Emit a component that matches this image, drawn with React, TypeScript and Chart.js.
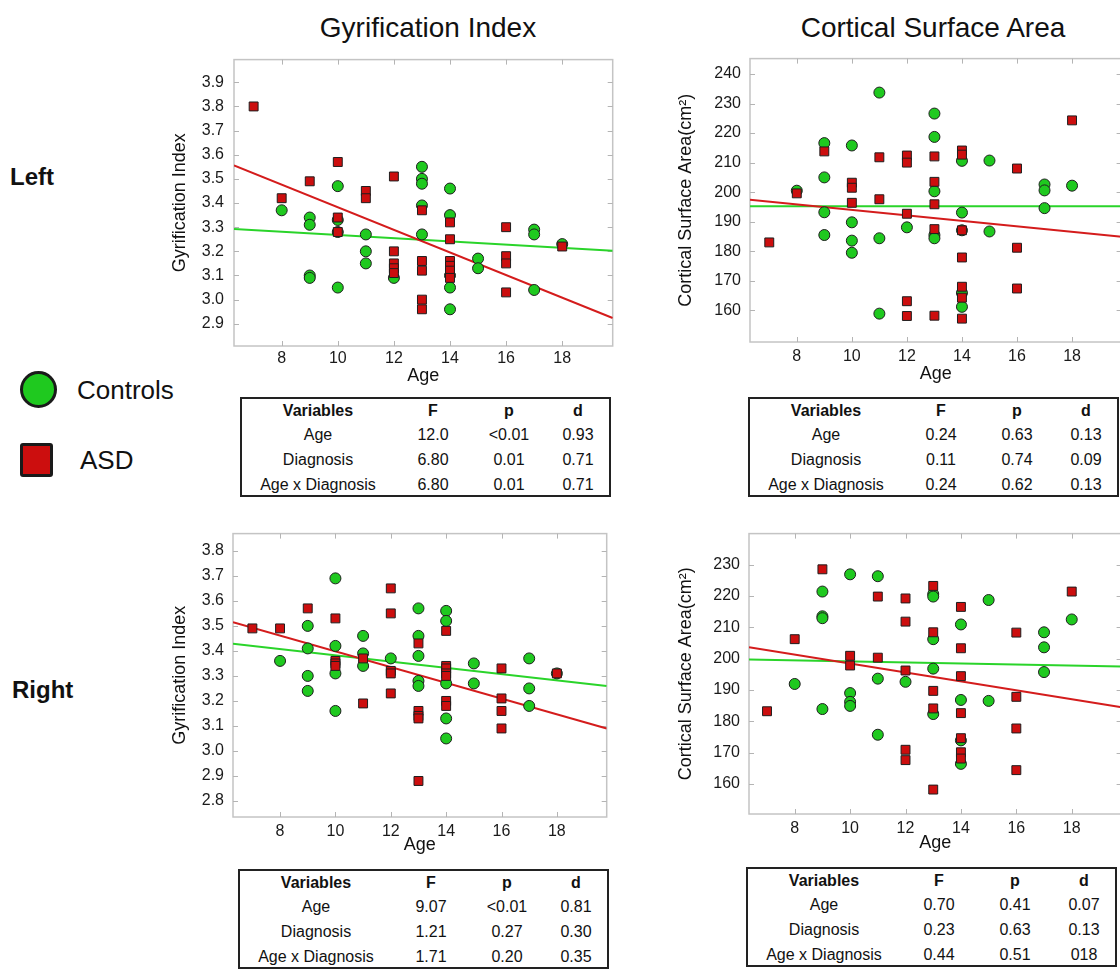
import React, { useEffect, useRef } from 'react';
import { Chart, registerables } from 'chart.js';

Chart.register(...registerables);

const FONT = '"Liberation Sans", Arial, Helvetica, sans-serif';
const GREEN = '#1fc91f';
const RED = '#cc0e0e';
const EDGE = '#1e1e1e';
const GREEN_LINE = '#2ad42a';
const RED_LINE = '#d41c1c';

// ---- axis ranges / ticks ----
const AGE_MIN = 6.3;
const AGE_MAX = 19.8;
const ageTicks = [8, 10, 12, 14, 16, 18];
const giLeftTicks = [2.9, 3.0, 3.1, 3.2, 3.3, 3.4, 3.5, 3.6, 3.7, 3.8, 3.9];
const giRightTicks = [2.8, 2.9, 3.0, 3.1, 3.2, 3.3, 3.4, 3.5, 3.6, 3.7, 3.8];
const saLeftTicks = [160, 170, 180, 190, 200, 210, 220, 230, 240];
const saRightTicks = [160, 170, 180, 190, 200, 210, 220, 230];

// ---- Gyrification Index, Left ----
const giLeftControls: [number, number][] = [
  [8, 3.37], [9, 3.34], [9, 3.31], [9, 3.10], [9, 3.09], [10, 3.47], [10, 3.33], [10, 3.28], [10, 3.05],
  [11, 3.27], [11, 3.20], [11, 3.15], [12, 3.09], [13, 3.55], [13, 3.50], [13, 3.48], [13, 3.39], [13, 3.27],
  [14, 3.46], [14, 3.35], [14, 3.10], [14, 3.05], [14, 2.96], [15, 3.17], [15, 3.13], [17, 3.29], [17, 3.27],
  [17, 3.04], [18, 3.23],
];
const giLeftAsd: [number, number][] = [
  [7, 3.80], [8, 3.42], [9, 3.49], [10, 3.57], [10, 3.34], [10, 3.28], [11, 3.45], [11, 3.42], [12, 3.51],
  [12, 3.20], [12, 3.15], [12, 3.13], [12, 3.11], [13, 3.37], [13, 3.16], [13, 3.12], [13, 3.00], [13, 2.96],
  [14, 3.32], [14, 3.25], [14, 3.16], [14, 3.14], [14, 3.12], [14, 3.09], [16, 3.30], [16, 3.18], [16, 3.15],
  [16, 3.03], [18, 3.22],
];
const giLeftControlFit = [3.293, 3.202];
const giLeftAsdFit = [3.556, 2.924];

// ---- Cortical Surface Area, Left ----
const saLeftControls: [number, number][] = [
  [8, 200.5], [9, 216.6], [9, 205.0], [9, 193.2], [9, 185.5], [10, 215.8], [10, 189.8], [10, 183.6], [10, 179.5],
  [11, 233.7], [11, 184.4], [11, 158.9], [12, 188.1], [13, 226.6], [13, 218.7], [13, 200.3], [13, 185.5], [13, 184.4],
  [14, 210.6], [14, 193.1], [14, 187.1], [14, 165.9], [14, 161.2], [15, 210.7], [15, 186.7], [17, 202.6], [17, 200.6],
  [17, 194.6], [18, 202.2],
];
const saLeftAsd: [number, number][] = [
  [7, 183.0], [8, 199.6], [9, 213.8], [10, 203.2], [10, 201.5], [10, 196.4], [11, 211.8], [11, 197.6], [12, 212.4],
  [12, 210.0], [12, 192.7], [12, 163.1], [12, 158.1], [13, 212.1], [13, 203.5], [13, 195.9], [13, 187.5], [13, 158.2],
  [14, 214.1], [14, 212.7], [14, 187.1], [14, 177.9], [14, 168.0], [14, 164.3], [14, 157.2], [16, 208.0], [16, 181.2],
  [16, 167.4], [18, 224.3],
];
const saLeftControlFit = [195.2, 195.2];
const saLeftAsdFit = [197.4, 184.9];

// ---- Gyrification Index, Right ----
const giRightControls: [number, number][] = [
  [8, 3.36], [9, 3.50], [9, 3.41], [9, 3.30], [9, 3.24], [10, 3.69], [10, 3.42], [10, 3.31], [10, 3.16],
  [11, 3.46], [11, 3.39], [11, 3.34], [12, 3.37], [13, 3.57], [13, 3.46], [13, 3.38], [13, 3.28], [13, 3.26],
  [14, 3.56], [14, 3.52], [14, 3.27], [14, 3.13], [14, 3.05], [15, 3.35], [15, 3.27], [17, 3.37], [17, 3.25],
  [17, 3.18], [18, 3.31],
];
const giRightAsd: [number, number][] = [
  [7, 3.49], [8, 3.49], [9, 3.57], [10, 3.53], [10, 3.36], [10, 3.35], [10, 3.34], [11, 3.37], [11, 3.19],
  [12, 3.65], [12, 3.55], [12, 3.32], [12, 3.31], [12, 3.23], [13, 3.43], [13, 3.16], [13, 3.14], [13, 3.13],
  [13, 2.88], [14, 3.48], [14, 3.34], [14, 3.33], [14, 3.31], [14, 3.30], [14, 3.20], [14, 3.18], [16, 3.33],
  [16, 3.21], [16, 3.16], [16, 3.09], [18, 3.31],
];
const giRightControlFit = [3.429, 3.260];
const giRightAsdFit = [3.515, 3.090];

// ---- Cortical Surface Area, Right ----
const saRightControls: [number, number][] = [
  [8, 191.9], [9, 221.4], [9, 213.5], [9, 212.9], [9, 183.9], [10, 226.9], [10, 189.0], [10, 186.2], [10, 184.9],
  [11, 226.3], [11, 193.6], [11, 175.7], [12, 192.6], [13, 220.6], [13, 219.8], [13, 206.2], [13, 196.8], [13, 182.3],
  [14, 210.9], [14, 186.8], [14, 173.9], [14, 166.4], [15, 218.7], [15, 186.5], [17, 208.4], [17, 203.6], [17, 195.7],
  [18, 212.5],
];
const saRightAsd: [number, number][] = [
  [7, 183.2], [8, 206.2], [9, 228.5], [10, 200.9], [10, 197.8], [11, 219.8], [11, 200.3], [12, 219.2], [12, 211.8],
  [12, 196.2], [12, 170.9], [12, 167.6], [13, 223.2], [13, 208.4], [13, 189.7], [13, 184.1], [13, 158.2], [14, 216.5],
  [14, 203.3], [14, 194.4], [14, 182.6], [14, 174.6], [14, 170.1], [14, 168.1], [16, 208.3], [16, 187.8], [16, 177.7],
  [16, 164.4], [18, 221.4],
];
const saRightControlFit = [199.7, 197.5];
const saRightAsdFit = [203.6, 184.5];

// ---- statistics tables ----
const tableHeader = ['Variables', 'F', 'p', 'd'];
const tableVariables = ['Age', 'Diagnosis', 'Age x Diagnosis'];
const giLeftF = ['12.0', '6.80', '6.80'];
const giLeftP = ['<0.01', '0.01', '0.01'];
const giLeftD = ['0.93', '0.71', '0.71'];
const saLeftF = ['0.24', '0.11', '0.24'];
const saLeftP = ['0.63', '0.74', '0.62'];
const saLeftD = ['0.13', '0.09', '0.13'];
const giRightF = ['9.07', '1.21', '1.71'];
const giRightP = ['<0.01', '0.27', '0.20'];
const giRightD = ['0.81', '0.30', '0.35'];
const saRightF = ['0.70', '0.23', '0.44'];
const saRightP = ['0.41', '0.63', '0.51'];
const saRightD = ['0.07', '0.13', '018'];

const framePlugin = {
  id: 'frame',
  beforeDatasetsDraw(chart: any) {
    const { ctx, chartArea: a, scales } = chart;
    const x = scales.x;
    const y = scales.y;
    ctx.save();
    ctx.strokeStyle = '#c4c4c4';
    ctx.lineWidth = 1.5;
    ctx.strokeRect(a.left, a.top, a.right - a.left, a.bottom - a.top);
    ctx.strokeStyle = '#b4b4b4';
    ctx.lineWidth = 1;
    const L = 5;
    ctx.beginPath();
    for (const t of x.ticks) {
      const px = Math.round(x.getPixelForValue(t.value)) + 0.5;
      ctx.moveTo(px, a.bottom); ctx.lineTo(px, a.bottom - L);
      ctx.moveTo(px, a.top); ctx.lineTo(px, a.top + L);
    }
    for (const t of y.ticks) {
      const py = Math.round(y.getPixelForValue(t.value)) + 0.5;
      ctx.moveTo(a.left, py); ctx.lineTo(a.left + L, py);
      ctx.moveTo(a.right, py); ctx.lineTo(a.right - L, py);
    }
    ctx.stroke();
    ctx.restore();
  },
};

type PanelProps = {
  left: number; top: number; width: number; height: number;
  yAxisWidth: number; xAxisHeight: number; padTop: number; padRight: number;
  xMin: number;
  yMin: number; yMax: number; yTicks: number[]; decimals: number;
  yTitle: string; yTitlePad: number; yTickPad: number; xTickPad: number;
  controls: [number, number][]; asd: [number, number][];
  controlFit: number[]; asdFit: number[];
};

function Panel(p: PanelProps) {
  const ref = useRef<HTMLCanvasElement>(null);
  useEffect(() => {
    const chart = new Chart(ref.current as HTMLCanvasElement, {
      type: 'scatter',
      data: {
        datasets: [
          {
            label: 'ASD',
            data: p.asd.map(([x, y]) => ({ x, y })),
            pointStyle: 'rect',
            pointRadius: 6.3,
            backgroundColor: RED,
            borderColor: EDGE,
            borderWidth: 1,
          },
          {
            label: 'Controls',
            data: p.controls.map(([x, y]) => ({ x, y })),
            pointStyle: 'circle',
            pointRadius: 5.5,
            backgroundColor: GREEN,
            borderColor: EDGE,
            borderWidth: 1,
          },
          {
            label: 'ASD fit',
            data: [{ x: p.xMin, y: p.asdFit[0] }, { x: AGE_MAX, y: p.asdFit[1] }],
            showLine: true,
            pointRadius: 0,
            borderColor: RED_LINE,
            borderWidth: 2,
            fill: false,
          },
          {
            label: 'Controls fit',
            data: [{ x: p.xMin, y: p.controlFit[0] }, { x: AGE_MAX, y: p.controlFit[1] }],
            showLine: true,
            pointRadius: 0,
            borderColor: GREEN_LINE,
            borderWidth: 2,
            fill: false,
          },
        ],
      } as any,
      options: {
        responsive: false,
        maintainAspectRatio: false,
        animation: false,
        events: [],
        layout: { padding: { top: p.padTop, right: p.padRight, left: 0, bottom: 0 } },
        plugins: { legend: { display: false }, tooltip: { enabled: false } },
        scales: {
          x: {
            type: 'linear',
            min: p.xMin,
            max: AGE_MAX,
            grid: { display: false, drawTicks: false },
            border: { display: false },
            afterBuildTicks: (s: any) => { s.ticks = ageTicks.map((v) => ({ value: v })); },
            afterFit: (s: any) => { s.height = p.xAxisHeight; },
            ticks: {
              font: { family: FONT, size: 16 },
              color: '#1a1a1a',
              padding: p.xTickPad,
              maxRotation: 0,
              autoSkip: false,
              callback: (v: any) => String(v),
            },
            title: { display: true, text: 'Age', font: { family: FONT, size: 18 }, color: '#111', padding: 0 },
          },
          y: {
            type: 'linear',
            min: p.yMin,
            max: p.yMax,
            grid: { display: false, drawTicks: false },
            border: { display: false },
            afterBuildTicks: (s: any) => { s.ticks = p.yTicks.map((v) => ({ value: v })); },
            afterFit: (s: any) => { s.width = p.yAxisWidth; },
            ticks: {
              font: { family: FONT, size: 16 },
              color: '#1a1a1a',
              padding: p.yTickPad,
              autoSkip: false,
              callback: (v: any) => Number(v).toFixed(p.decimals),
            },
            title: {
              display: true,
              text: p.yTitle,
              font: { family: FONT, size: 18 },
              color: '#111',
              padding: { top: p.yTitlePad, bottom: 0 },
            },
          },
        },
      } as any,
      plugins: [framePlugin],
    });
    return () => chart.destroy();
  }, []);
  return (
    <canvas
      ref={ref}
      width={p.width}
      height={p.height}
      style={{ position: 'absolute', left: p.left, top: p.top, width: p.width, height: p.height }}
    />
  );
}

const colCenters = [78, 193, 269, 338];
const rowCenters = [13.5, 37.5, 62.5, 87.5];

function StatsTable(props: { left: number; top: number; F: string[]; P: string[]; D: string[] }) {
  const cells: React.ReactNode[] = [];
  tableHeader.forEach((h, c) => {
    cells.push(
      <div key={'h' + c} style={{ position: 'absolute', left: colCenters[c] - 2, top: rowCenters[0] - 2, transform: 'translate(-50%,-50%)', fontWeight: 'bold', whiteSpace: 'nowrap', lineHeight: 1 }}>{h}</div>
    );
  });
  tableVariables.forEach((name, r) => {
    const vals = [name, props.F[r], props.P[r], props.D[r]];
    vals.forEach((v, c) => {
      cells.push(
        <div key={r + '-' + c} style={{ position: 'absolute', left: colCenters[c] - 2, top: rowCenters[r + 1] - 2, transform: 'translate(-50%,-50%)', whiteSpace: 'nowrap', lineHeight: 1 }}>{v}</div>
      );
    });
  });
  return (
    <div style={{ position: 'absolute', left: props.left, top: props.top, width: 371, height: 100, boxSizing: 'border-box', border: '2px solid #222', fontFamily: FONT, fontSize: 16, color: '#111' }}>
      {cells}
    </div>
  );
}

function Label(props: { x: number; y: number; text: string; size: number; bold?: boolean; center?: boolean }) {
  return (
    <div
      style={{
        position: 'absolute', left: props.x, top: props.y,
        transform: props.center ? 'translate(-50%,-50%)' : 'translateY(-50%)',
        fontFamily: FONT, fontSize: props.size, fontWeight: props.bold ? 'bold' : 'normal',
        color: '#111', whiteSpace: 'nowrap', lineHeight: 1,
      }}
    >
      {props.text}
    </div>
  );
}

export default function App() {
  return (
    <div style={{ position: 'fixed', left: 0, top: 0, width: 1120, height: 970, overflow: 'hidden', background: '#fff' }}>
      <Label x={428} y={28} text="Gyrification Index" size={28} center />
      <Label x={933} y={28} text="Cortical Surface Area" size={28} center />
      <Label x={10} y={177} text="Left" size={24} bold />
      <Label x={12} y={690} text="Right" size={24} bold />

      <div style={{ position: 'absolute', left: 20, top: 371, width: 37, height: 37, boxSizing: 'border-box', borderRadius: '50%', border: '3px solid #1a1a1a', background: GREEN }} />
      <Label x={77} y={390} text="Controls" size={26} />
      <div style={{ position: 'absolute', left: 20, top: 443, width: 33, height: 34, boxSizing: 'border-box', borderRadius: 3, border: '3px solid #1a1a1a', background: RED }} />
      <Label x={80} y={460} text="ASD" size={26} />

      <Panel left={160} top={40} width={460} height={347} yAxisWidth={74} xAxisHeight={41} padTop={7} padRight={6}
        xMin={AGE_MIN} yMin={2.808} yMax={3.994} yTicks={giLeftTicks} decimals={1}
        yTitle="Gyrification Index" yTitlePad={9} yTickPad={10} xTickPad={3}
        controls={giLeftControls} asd={giLeftAsd} controlFit={giLeftControlFit} asdFit={giLeftAsdFit} />
      <Panel left={670} top={40} width={460} height={345} yAxisWidth={80} xAxisHeight={43} padTop={9} padRight={8.4}
        xMin={AGE_MIN} yMin={149.3} yMax={245.2} yTicks={saLeftTicks} decimals={0}
        yTitle="Cortical Surface Area(cm²)" yTitlePad={5} yTickPad={9} xTickPad={5}
        controls={saLeftControls} asd={saLeftAsd} controlFit={saLeftControlFit} asdFit={saLeftAsdFit} />
      <Panel left={160} top={515} width={454} height={341} yAxisWidth={73} xAxisHeight={39} padTop={7} padRight={6.3}
        xMin={AGE_MIN} yMin={2.736} yMax={3.869} yTicks={giRightTicks} decimals={1}
        yTitle="Gyrification Index" yTitlePad={9} yTickPad={9} xTickPad={5}
        controls={giRightControls} asd={giRightAsd} controlFit={giRightControlFit} asdFit={giRightAsdFit} />
      <Panel left={670} top={515} width={460} height={339} yAxisWidth={79} xAxisHeight={40} padTop={6} padRight={8.4}
        xMin={6.35} yMin={150.4} yMax={239.9} yTicks={saRightTicks} decimals={0}
        yTitle="Cortical Surface Area(cm²)" yTitlePad={5} yTickPad={9} xTickPad={5}
        controls={saRightControls} asd={saRightAsd} controlFit={saRightControlFit} asdFit={saRightAsdFit} />

      <StatsTable left={240} top={397} F={giLeftF} P={giLeftP} D={giLeftD} />
      <StatsTable left={748} top={397} F={saLeftF} P={saLeftP} D={saLeftD} />
      <StatsTable left={238} top={869} F={giRightF} P={giRightP} D={giRightD} />
      <StatsTable left={746} top={867} F={saRightF} P={saRightP} D={saRightD} />
    </div>
  );
}
